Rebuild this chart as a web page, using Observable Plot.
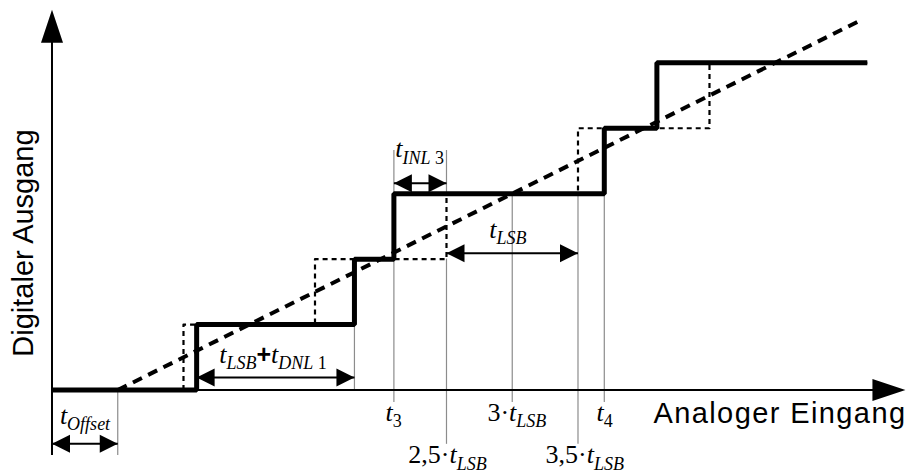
<!DOCTYPE html>
<html><head><meta charset="utf-8">
<script src="https://cdn.jsdelivr.net/npm/d3@7"></script>
<script src="https://cdn.jsdelivr.net/npm/@observablehq/plot@0.6"></script>
<style>html,body{margin:0;padding:0;background:#fff;} svg{display:block}</style>
</head><body><div id="chart"></div>
<script>
// x in units of t_LSB (0 = ideal offset start), y in output codes
const xDomain = [-0.8916, 6.021];
const yDomain = [-1.291, 5.952];

// real (measured) transfer curve: step-after points
const realX = [-0.5, 0.6, 1.8, 2.1, 3.7, 4.1, 5.7];
const realY = [0, 1, 2, 3, 4, 5, 5];
// ideal transfer curve: step-before points
const idealX = [0.5, 1.5, 2.5, 3.5, 4.5, 5.7];
const idealY = [0, 1, 2, 3, 4, 5];
// ideal straight line
const diagX = [0, 5.65];
const diagY = [0, 5.65];

// thin gray reference lines
const grayX  = [0, 0.6, 1.8, 2.1, 2.1, 2.5, 2.5, 3.0, 3.5, 3.7];
const grayY1 = [-1, 0, 0, -0.19, 3, -0.83, 3, -0.19, -0.83, -0.19];
const grayY2 = [0, 1, 1, 2, 3.66, 2, 3.66, 3, 3, 3];

// dimension arrows
const dimX1 = [-0.5, 0.6, 2.1, 2.5];
const dimX2 = [0, 1.8, 2.5, 3.5];
const dimY  = [-0.82, 0.19, 3.16, 2.09];

// axes
const axisOrigin = [-0.5, 0];
const xAxisEnd = 5.99;
const yAxisEnd = 5.81;
const yAxisBottom = -1;

const labels = [
  {x: -0.44, y: -0.512, parts: [["t","i"],["Offset","si"]]},
  {x: 0.772, y: 0.42, parts: [["t","i"],["LSB","si"],["+","p"],["t","i"],["DNL","si"],[" 1","sr"]]},
  {x: 2.110, y: 3.553, parts: [["t","i"],["INL","si"],[" 3","sr"]]},
  {x: 2.826, y: 2.330, parts: [["t","i"],["LSB","si"]]},
  {x: 2.036, y: -0.466, parts: [["t","i"],["3","sr"]]},
  {x: 2.811, y: -0.466, parts: [["3·","r"],["t","i"],["LSB","si"]]},
  {x: 3.640, y: -0.466, parts: [["t","i"],["4","sr"]]},
  {x: 2.21, y: -1.12, parts: [["2,5·","r"],["t","i"],["LSB","si"]]},
  {x: 3.253, y: -1.12, parts: [["3,5·","r"],["t","i"],["LSB","si"]]}
];
const yTitle = {text: "Digitaler Ausgang", x: -0.641, y: 2.246};
const xTitle = {text: "Analoger Eingang", x: 4.074, y: -0.50};

const real = realX.map((x, i) => ({x, y: realY[i]}));
const ideal = idealX.map((x, i) => ({x, y: idealY[i]}));
const diag = diagX.map((x, i) => ({x, y: diagY[i]}));
const gray = grayX.map((x, i) => ({x, y1: grayY1[i], y2: grayY2[i]}));
const dims = dimX1.map((x1, i) => ({x1, x2: dimX2[i], y: dimY[i]}));
const dimHeads = dims.flatMap(d => [{x: d.x1, y: d.y, rotate: 180}, {x: d.x2, y: d.y, rotate: 0}]);
const axisHeads = [{x: xAxisEnd, y: axisOrigin[1], rotate: 0}, {x: axisOrigin[0], y: yAxisEnd, rotate: -90}];

const bigHead = {draw(ctx){ctx.moveTo(0,0);ctx.lineTo(-33,-11);ctx.lineTo(-33,11);ctx.closePath();}};
const smallHead = {draw(ctx){ctx.moveTo(0,0);ctx.lineTo(-18,-9);ctx.lineTo(-18,9);ctx.closePath();}};

const chart = Plot.plot({
  width: 909, height: 474, margin: 0,
  x: {domain: xDomain, axis: null},
  y: {domain: yDomain, axis: null},
  style: {background: "white"},
  marks: [
    Plot.ruleX(gray, {x: "x", y1: "y1", y2: "y2", stroke: "#8c8c8c", strokeWidth: 1.2}),
    Plot.line(ideal, {x: "x", y: "y", curve: "step-before", stroke: "black", strokeWidth: 2.2, strokeDasharray: "5,4", strokeLinecap: "butt"}),
    Plot.line(diag, {x: "x", y: "y", stroke: "black", strokeWidth: 4, strokeDasharray: "10,7", strokeLinecap: "butt"}),
    Plot.line(real, {x: "x", y: "y", curve: "step-after", stroke: "black", strokeWidth: 5, strokeLinejoin: "miter", strokeLinecap: "butt"}),
    Plot.ruleY([axisOrigin[1]], {x1: axisOrigin[0], x2: xAxisEnd - 0.2, stroke: "black", strokeWidth: 2}),
    Plot.ruleX([axisOrigin[0]], {y1: yAxisBottom, y2: yAxisEnd - 0.4, stroke: "black", strokeWidth: 2}),
    Plot.dot(axisHeads, {x: "x", y: "y", rotate: "rotate", symbol: bigHead, fill: "black", stroke: "none"}),
    Plot.link(dims, {x1: "x1", x2: "x2", y1: "y", y2: "y", stroke: "black", strokeWidth: 2}),
    Plot.dot(dimHeads, {x: "x", y: "y", rotate: "rotate", symbol: smallHead, fill: "black", stroke: "none"}),
    Plot.text([yTitle], {x: "x", y: "y", text: "text", rotate: -90, textAnchor: "middle", lineAnchor: "bottom", fontFamily: "Liberation Sans", fontSize: 29, fill: "black"}),
    Plot.text([xTitle], {x: "x", y: "y", text: "text", textAnchor: "start", lineAnchor: "bottom", fontFamily: "Liberation Sans", fontSize: 29, fill: "black"}),
    Plot.text(labels, {x: "x", y: "y", text: d => d.parts.map(p => p[0]).join(""), textAnchor: "start", lineAnchor: "bottom", fontFamily: "Liberation Serif", fontSize: 26, fill: "black"})
  ]
});

// widen the x-axis title to the reference's spacing
const groups = chart.querySelectorAll('g[aria-label="text"]');
d3.select(groups[1]).selectAll("text").attr("letter-spacing", "1.4px");

const subShift = 6.5;
const labelGroup = groups[groups.length - 1];
d3.select(labelGroup).selectAll("text").each(function(_, i) {
  const lab = labels[i];
  const t = d3.select(this);
  t.text(null);
  let sub = false;
  lab.parts.forEach(([s, st]) => {
    const ts = t.append("tspan").text(s);
    const isSub = st.startsWith("s");
    if (isSub && !sub) ts.attr("dy", subShift);
    if (!isSub && sub) ts.attr("dy", -subShift);
    sub = isSub;
    if (isSub) ts.attr("font-size", 18);
    if (st.endsWith("i")) ts.attr("font-style", "italic");
    if (st === "p") ts.attr("font-family", "Liberation Sans").attr("font-weight", "bold").attr("font-size", 25);
  });
});

document.getElementById("chart").appendChild(chart);
</script>
</body></html>
